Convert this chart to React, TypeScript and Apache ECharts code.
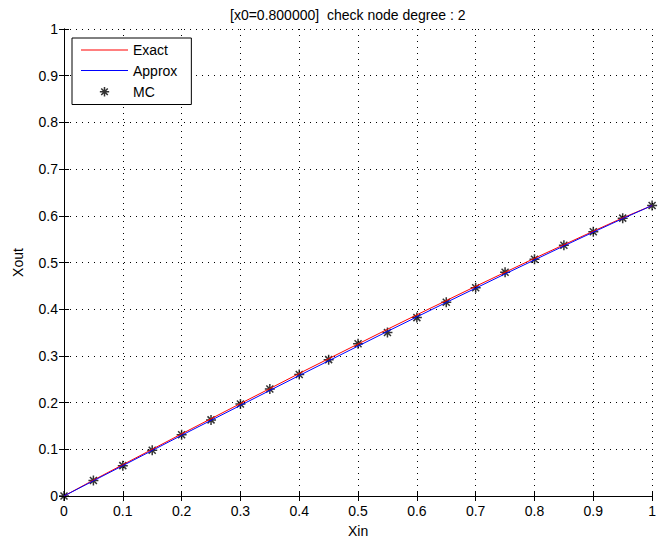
import React, { useEffect, useRef } from "react";
import * as echarts from "echarts";

const xin = [0, 0.05, 0.1, 0.15, 0.2, 0.25, 0.3, 0.35, 0.4, 0.45, 0.5, 0.55, 0.6, 0.65, 0.7, 0.75, 0.8, 0.85, 0.9, 0.95, 1];
const exact = [0, 0.034, 0.067, 0.1, 0.133, 0.1655, 0.198, 0.23, 0.2625, 0.294, 0.3255, 0.357, 0.388, 0.4185, 0.449, 0.479, 0.509, 0.538, 0.567, 0.5955, 0.622];
const approx = [0, 0.0325, 0.065, 0.0975, 0.13, 0.162, 0.194, 0.226, 0.258, 0.2895, 0.321, 0.3525, 0.3835, 0.4145, 0.445, 0.4755, 0.5055, 0.5355, 0.565, 0.594, 0.622];
const mc = [0, 0.033, 0.065, 0.098, 0.131, 0.163, 0.197, 0.229, 0.26, 0.292, 0.326, 0.35, 0.382, 0.415, 0.446, 0.479, 0.507, 0.537, 0.566, 0.595, 0.622];

const titleText = "[x0=0.800000]  check node degree : 2";
const seriesNames = ["Exact", "Approx", "MC"];

const STAR = "path://M10 0 L10 20 M0 10 L20 10 M3 3 L17 17 M17 3 L3 17";
const STAR_LEGEND = "path://M-5 -5 M25 25 M10 0 L10 20 M0 10 L20 10 M3 3 L17 17 M17 3 L3 17";
const LINE_ICON = "path://M0 0 L47 0 L47 1 L0 1 Z";
const FONT = "Liberation Sans, Arial, Helvetica, sans-serif";

export default function App() {
  const ref = useRef<HTMLDivElement>(null);
  useEffect(() => {
    const chart = echarts.init(ref.current!, null, { renderer: "svg" });
    const pair = (ys: number[]) => xin.map((x, i) => [x, ys[i]]);
    const axisCommon = {
      type: "value" as const,
      min: 0,
      max: 1,
      interval: 0.1,
      axisLine: { show: true, lineStyle: { color: "#000", width: 1 } },
      axisTick: { show: true, inside: true, length: 5, lineStyle: { color: "#000" } },
    };
    const gridLine = { show: true, lineStyle: { color: "#000", type: [1, 5], width: 1 } };
    chart.setOption({
      animation: false,
      textStyle: { fontFamily: FONT },
      title: {
        text: titleText,
        left: 225,
        top: 3,
        textStyle: { fontSize: 14, fontWeight: "normal", color: "#000", fontFamily: FONT },
      },
      grid: { left: 64, right: 1, top: 29, bottom: 50, containLabel: false },
      legend: {
        orient: "vertical",
        left: 72,
        top: 38,
        data: [
          { name: seriesNames[0], icon: LINE_ICON, itemStyle: { color: "#ff0000", borderWidth: 0 } },
          { name: seriesNames[1], icon: LINE_ICON, itemStyle: { color: "#0000ff", borderWidth: 0 } },
          {
            name: seriesNames[2],
            icon: STAR_LEGEND,
            itemStyle: { color: "transparent", borderColor: "#000", borderWidth: 1.5 },
          },
        ],
        itemWidth: 47,
        itemHeight: 14,
        itemGap: 6.5,
        padding: [5, 14, 5, 9],
        borderColor: "#000",
        borderWidth: 1,
        backgroundColor: "#fff",
        textStyle: { fontSize: 14, color: "#000", fontFamily: FONT },
        selectedMode: false,
      },
      xAxis: [
        {
          ...axisCommon,
          position: "bottom",
          name: "Xin",
          nameLocation: "middle",
          nameGap: 28,
          nameTextStyle: { fontSize: 14, color: "#000" },
          axisLabel: { fontSize: 14, color: "#000", margin: 8 },
          splitLine: gridLine,
        },
        {
          ...axisCommon,
          position: "top",
          axisLabel: { show: false },
          splitLine: { show: false },
        },
      ],
      yAxis: [
        {
          ...axisCommon,
          position: "left",
          name: "Xout",
          nameLocation: "middle",
          nameGap: 39,
          nameRotate: 90,
          nameTextStyle: { fontSize: 14, color: "#000" },
          axisLabel: { fontSize: 14, color: "#000", margin: 6 },
          splitLine: gridLine,
        },
        {
          ...axisCommon,
          position: "right",
          axisLabel: { show: false },
          splitLine: { show: false },
        },
      ],
      series: [
        {
          name: "Exact",
          type: "line",
          data: pair(exact),
          symbol: "none",
          lineStyle: { color: "#ff0000", width: 1 },
          itemStyle: { color: "#ff0000" },
        },
        {
          name: "Approx",
          type: "line",
          data: pair(approx),
          symbol: "none",
          lineStyle: { color: "#0000ff", width: 1 },
          itemStyle: { color: "#0000ff" },
        },
        {
          name: "MC",
          type: "scatter",
          data: pair(mc),
          symbol: STAR,
          symbolSize: 10,
          symbolKeepAspect: true,
          itemStyle: { color: "transparent", borderColor: "#000", borderWidth: 1.5 },
        },
      ],
    });
    return () => chart.dispose();
  }, []);
  return (
    <div
      ref={ref}
      style={{ position: "fixed", left: 0, top: 0, width: 659, height: 546, background: "#fff" }}
    />
  );
}
